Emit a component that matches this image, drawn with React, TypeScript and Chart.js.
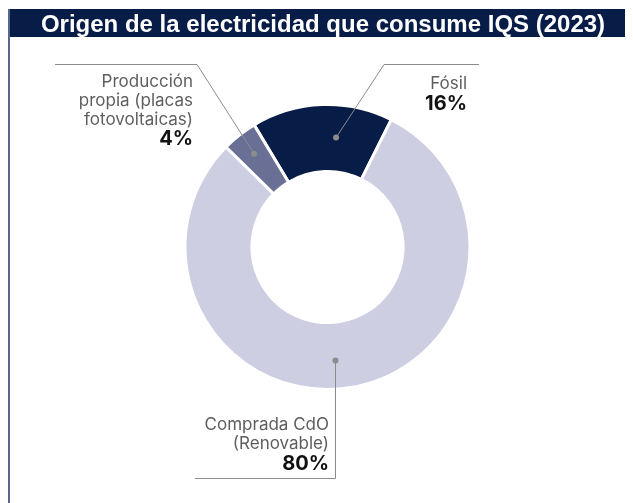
import React, { useEffect, useRef } from "react";
import { Chart, registerables } from "chart.js";

Chart.register(...registerables);

const TITLE = "Origen de la electricidad que consume IQS (2023)";
const categories = ["Fósil", "Comprada CdO (Renovable)", "Producción propia (placas fotovoltaicas)"];
const values = [16, 80, 4];
const colors = ["#081c48", "#cdcee2", "#6a6f96"];
const labelLines = [["Fósil"], ["Comprada CdO", "(Renovable)"], ["Producción", "propia (placas", "fotovoltaicas)"]];

// leader anchors: angular fraction along the arc, radial fraction across the ring
const anchorAngleFrac = [0.616, 0.519, 0.5];
const anchorRadiusFrac = [0.51, 0.57, 0.646];

const W = 625;
const H = 495;

const labelPlugin = {
  id: "labelsAndFrame",
  beforeDraw(chart: any) {
    const ctx = chart.ctx;
    ctx.save();
    ctx.fillStyle = "#ffffff";
    ctx.fillRect(0, 0, W, H);
    // left border
    ctx.fillStyle = "#56678d";
    ctx.fillRect(0, 1, 2, H);
    // header
    ctx.fillStyle = "#071c47";
    ctx.fillRect(2, 1, W - 2, 28);
    ctx.fillStyle = "#ffffff";
    ctx.font = "bold 24px 'Liberation Sans', Arial, sans-serif";
    ctx.textAlign = "center";
    ctx.textBaseline = "alphabetic";
    ctx.fillText(TITLE, 315, 23.5);
    ctx.restore();
  },
  afterDatasetsDraw(chart: any) {
    const ctx = chart.ctx;
    const meta = chart.getDatasetMeta(0);
    const anchors = meta.data.map((arc: any, i: number) => {
      const p = arc.getProps(["x", "y", "startAngle", "endAngle", "innerRadius", "outerRadius"], true);
      const a = p.startAngle + anchorAngleFrac[i] * (p.endAngle - p.startAngle);
      const r = p.innerRadius + anchorRadiusFrac[i] * (p.outerRadius - p.innerRadius);
      return { x: p.x + Math.cos(a) * r, y: p.y + Math.sin(a) * r };
    });
    ctx.save();
    ctx.strokeStyle = "#8c8c8c";
    ctx.lineWidth = 1;
    const topY = 56.5;
    // Fósil
    const f = anchors[0];
    ctx.beginPath();
    ctx.moveTo(f.x, f.y);
    ctx.lineTo(376, topY);
    ctx.lineTo(471, topY);
    ctx.stroke();
    // Producción
    const pr = anchors[2];
    ctx.beginPath();
    ctx.moveTo(pr.x, pr.y);
    ctx.lineTo(189, topY);
    ctx.lineTo(47, topY);
    ctx.stroke();
    // Comprada
    const c = anchors[1];
    const cx = Math.round(c.x) + 0.5;
    ctx.beginPath();
    ctx.moveTo(cx, c.y);
    ctx.lineTo(cx, 470.5);
    ctx.lineTo(187, 470.5);
    ctx.stroke();
    // dots
    ctx.fillStyle = "#8c8c8c";
    [f, pr, { x: cx, y: c.y }].forEach((d: any) => {
      ctx.beginPath();
      ctx.arc(d.x, d.y, 3, 0, Math.PI * 2);
      ctx.fill();
    });

    const drawLabel = (i: number, rightX: number, firstY: number, step: number) => {
      ctx.textAlign = "right";
      ctx.textBaseline = "middle";
      ctx.fillStyle = "#5e5e5e";
      ctx.font = "17px Inter, sans-serif";
      labelLines[i].forEach((t, k) => ctx.fillText(t, rightX, firstY + k * step));
      ctx.fillStyle = "#111111";
      ctx.font = "bold 20px Inter, sans-serif";
      ctx.fillText(values[i] + "%", rightX, firstY + labelLines[i].length * step + 1);
    };
    drawLabel(0, 459, 75.5, 19.5);
    drawLabel(2, 185, 74, 18.7);
    drawLabel(1, 321, 417, 19);
    ctx.restore();
  },
};

export default function App() {
  const ref = useRef<HTMLCanvasElement | null>(null);
  useEffect(() => {
    if (!ref.current) return;
    const chart = new Chart(ref.current, {
      type: "doughnut",
      data: {
        labels: categories,
        datasets: [
          {
            data: values,
            backgroundColor: colors,
            borderColor: "#ffffff",
            borderWidth: 3,
          },
        ],
      },
      options: {
        responsive: false,
        animation: false,
        devicePixelRatio: 1,
        rotation: -31,
        radius: 142.5,
        cutout: 74,
        layout: { padding: { left: 178, right: 164, top: 98, bottom: 115 } },
        plugins: {
          legend: { display: false },
          tooltip: { enabled: false },
          title: { display: false },
        },
      },
      plugins: [labelPlugin],
    });
    return () => chart.destroy();
  }, []);
  return <canvas ref={ref} width={W} height={H} style={{ display: "block" }} />;
}
